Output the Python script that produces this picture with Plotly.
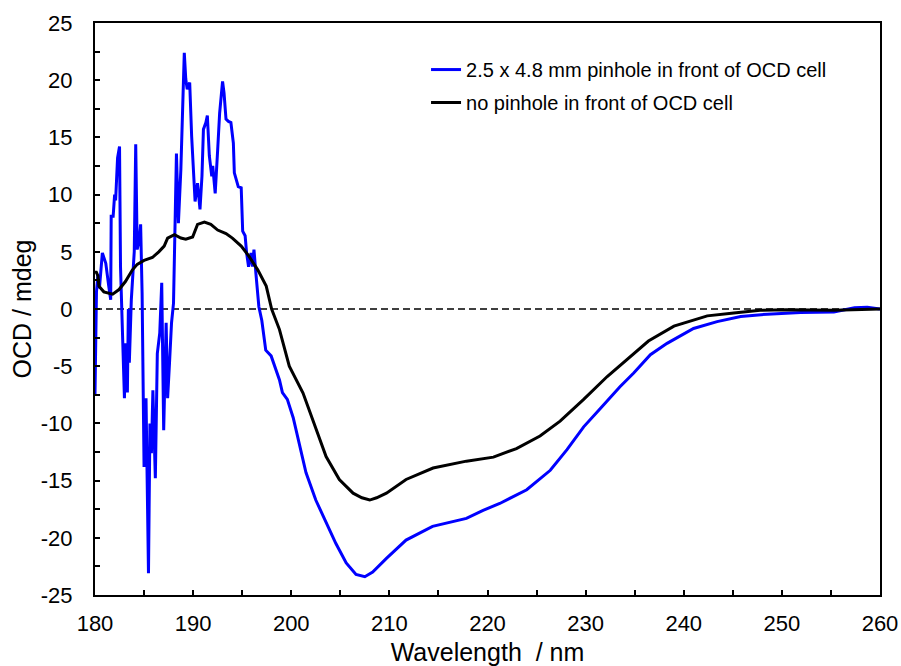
import plotly.graph_objects as go

# ---- data ----
blue_x = [180.0, 180.05, 180.15, 180.3, 180.45, 180.75, 181.1, 181.4, 181.6, 181.65, 181.85, 182.0,
          182.1, 182.3, 182.5, 182.6, 182.8, 183.0, 183.1, 183.3, 183.4, 183.5, 183.7, 184.0,
          184.15, 184.3, 184.5, 184.65, 184.8, 185.0, 185.2, 185.45, 185.6, 185.75, 185.9, 186.15,
          186.35, 186.6, 186.8, 187.0, 187.25, 187.4, 187.6, 187.8, 188.0, 188.3, 188.5, 188.75,
          189.1, 189.25, 189.4, 189.65, 189.85, 190.2, 190.45, 190.7, 190.9, 191.05, 191.3, 191.45,
          191.65, 191.9, 192.0, 192.25, 192.5, 192.7, 193.0, 193.15, 193.35, 193.6, 193.85, 194.1,
          194.2, 194.45, 194.6, 194.9, 195.05, 195.3, 195.45, 195.65, 195.9, 196.05, 196.2, 196.4,
          196.7, 197.0, 197.4, 197.95, 198.3, 198.8, 199.1, 199.6, 200.2, 200.8, 201.5, 202.5,
          203.55, 204.55, 205.6, 206.6, 207.5, 208.3, 209.7, 211.7, 214.4, 217.85, 219.55, 221.25,
          224.0, 226.4, 228.1, 229.8, 231.5, 233.5, 234.9, 236.6, 238.3, 241.0, 243.4, 245.8,
          248.5, 251.9, 255.3, 257.4, 258.7, 260.0]
blue_y = [-7.5, -2.0, 1.5, 3.0, 1.8, 4.9, 4.0, 2.0, 0.8, 8.1, 8.1, 10.0,
          9.5, 13.2, 14.2, 3.7, -3.0, -7.8, -3.0, -7.3, 0.0, -4.7, 0.8, 5.0,
          14.4, 5.2, 6.0, 7.4, 1.4, -13.8, -7.8, -23.1, -10.0, -12.6, -7.1, -14.8,
          -3.9, -2.1, 2.3, -10.6, -1.2, -7.8, -4.6, -1.2, 0.5, 13.6, 7.5, 12.2,
          22.4, 20.1, 19.2, 19.8, 15.1, 9.4, 11.0, 8.7, 11.6, 15.7, 16.3, 16.9,
          13.4, 11.6, 12.5, 10.1, 13.9, 17.1, 19.9, 18.9, 16.6, 16.4, 16.3, 14.5,
          11.9, 11.0, 10.7, 10.6, 6.8, 6.4, 4.9, 3.7, 4.9, 3.7, 5.2, 3.1,
          0.2, -1.0, -3.6, -4.1, -5.0, -6.2, -7.3, -7.9, -9.5, -11.7, -14.3, -16.7,
          -18.7, -20.5, -22.2, -23.2, -23.4, -23.0, -21.8, -20.2, -19.0, -18.3, -17.6, -17.0,
          -15.8, -14.1, -12.3, -10.3, -8.7, -6.8, -5.6, -4.0, -3.0, -1.7, -1.1, -0.65,
          -0.45, -0.3, -0.26, 0.1, 0.15, 0.0]

black_x = [180.0, 180.1, 180.3, 180.4, 180.9, 181.8, 182.45, 183.1, 183.8, 184.3, 185.0, 185.85,
           186.5, 187.05, 187.4, 188.1, 188.75, 189.25, 189.95, 190.45, 191.15, 191.8, 192.5, 193.35,
           194.0, 194.9, 195.7, 196.6, 197.45, 198.0, 198.8, 199.8, 201.2, 202.35, 203.55, 204.9,
           206.3, 207.2, 208.0, 208.7, 209.7, 211.7, 214.45, 217.85, 220.6, 222.95, 225.35, 227.4,
           229.8, 232.2, 234.2, 236.4, 239.0, 242.4, 245.1, 247.8, 250.5, 255.3, 260.0]
black_y = [3.1, 3.3, 2.9, 2.0, 1.5, 1.3, 1.7, 2.4, 3.4, 3.9, 4.25, 4.5,
           5.0, 5.5, 6.2, 6.5, 6.2, 6.1, 6.3, 7.4, 7.6, 7.4, 6.9, 6.6,
           6.2, 5.5, 4.6, 3.4, 2.0, 0.0, -1.8, -5.0, -7.35, -10.0, -12.9, -14.9,
           -16.1, -16.5, -16.7, -16.5, -16.1, -14.9, -13.9, -13.3, -12.95, -12.2, -11.1, -9.8,
           -7.9, -5.9, -4.4, -2.8, -1.5, -0.6, -0.35, -0.12, -0.06, -0.1, 0.0]

y_tick_vals = [25, 20, 15, 10, 5, 0, -5, -10, -15, -20, -25]
y_tick_text = ["25", "20", "15", "10", "5", "0", "-5", "-10", "-15", "-20", "-25"]

blue_name = "2.5 x 4.8 mm pinhole in front of OCD cell"
black_name = "no pinhole in front of OCD cell"
x_title = "Wavelength\u00a0\u00a0/ nm"
y_title = "OCD / mdeg"

FONT = "Liberation Sans, Arial, sans-serif"

fig = go.Figure()
fig.add_trace(go.Scatter(x=blue_x, y=blue_y, mode="lines", name=blue_name,
                         line=dict(color="#0000FF", width=3), legend="legend"))
fig.add_trace(go.Scatter(x=black_x, y=black_y, mode="lines", name=black_name,
                         line=dict(color="#000000", width=3), legend="legend2"))

fig.add_shape(type="line", xref="paper", yref="y", x0=0, x1=1, y0=0, y1=0,
              line=dict(color="black", width=1.5, dash="7px,4px"), layer="below")

axis_common = dict(showline=True, linecolor="black", linewidth=2, mirror=True,
                   ticks="inside", ticklen=5, tickwidth=2, tickcolor="black",
                   showgrid=False, zeroline=False, automargin=False,
                   tickfont=dict(family=FONT, size=22, color="black"))

fig.update_xaxes(range=[180, 260], dtick=10, tick0=180,
                 minor=dict(dtick=5, ticks="inside", ticklen=5, tickwidth=2, tickcolor="black"),
                 title=dict(text=x_title, font=dict(family=FONT, size=25, color="black"), standoff=8),
                 ticklabelstandoff=8, **axis_common)
fig.update_yaxes(range=[-25, 25], tickmode="array", tickvals=y_tick_vals, ticktext=y_tick_text,
                 minor=dict(dtick=2.5, tick0=0, ticks="inside", ticklen=5, tickwidth=2, tickcolor="black"),
                 title=dict(text=y_title, font=dict(family=FONT, size=25, color="black"), standoff=2),
                 ticklabelstandoff=16, **axis_common)

legend_common = dict(xanchor="left", yanchor="middle", bgcolor="rgba(0,0,0,0)",
                     font=dict(family=FONT, size=20, color="black"), itemwidth=30)
fig.update_layout(
    width=901, height=666,
    margin=dict(l=95, r=21, t=23, b=71, autoexpand=False),
    paper_bgcolor="white", plot_bgcolor="white",
    showlegend=True,
    legend=dict(x=0.4217, y=0.9186, **legend_common),
    legend2=dict(x=0.4217, y=0.861, **legend_common),
)

fig.write_html("out.html")
